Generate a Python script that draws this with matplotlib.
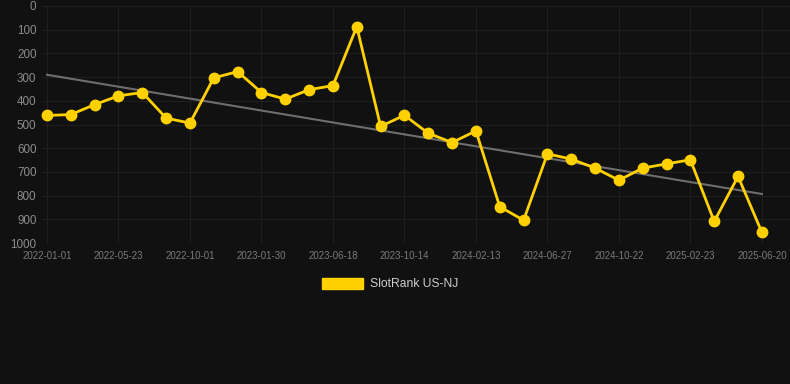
import numpy as np
import matplotlib
matplotlib.use("Agg")
import matplotlib.pyplot as plt
from matplotlib.patches import Patch

# SlotRank US-NJ rank values, one per point
rank_values = [462, 458, 416, 379, 365, 473, 494, 303, 277, 365,
               393, 353, 336, 87, 508, 461, 537, 576, 527, 847,
               904, 624, 646, 684, 735, 684, 666, 649, 909, 719,
               955]
# tick labels shown every third point
tick_labels = ["2022-01-01", "2022-05-23", "2022-10-01", "2023-01-30",
               "2023-06-18", "2023-10-14", "2024-02-13", "2024-06-27",
               "2024-10-22", "2025-02-23", "2025-06-20"]
series_name = "SlotRank US-NJ"

bg = "#111111"
gold = "#FFD100"

plt.rcParams["font.family"] = ["Liberation Sans", "DejaVu Sans"]

fig = plt.figure(figsize=(7.9, 3.84), dpi=100, facecolor=bg)
ax = fig.add_axes([42 / 790, 1 - 243 / 384, 748 / 790, 237 / 384])
ax.set_facecolor(bg)

x = np.arange(len(rank_values))
y = np.array(rank_values)

# linear trend line
slope, intercept = np.polyfit(x, y, 1)
ax.plot(x, slope * x + intercept, color="#6e6e6e", linewidth=1.5, zorder=2)

ax.plot(x, y, color=gold, linewidth=2, marker="o", markersize=7.5,
        zorder=3, clip_on=False)

ax.set_ylim(1000, 0)
ax.set_xlim(-0.21, 31.18)
ax.set_yticks(np.arange(0, 1001, 100))
ax.set_xticks(x[::3])
ax.set_xticklabels(tick_labels)

ax.grid(True, color="#1f1f1f", linewidth=0.8)
ax.set_axisbelow(True)
for s in ax.spines.values():
    s.set_visible(False)

ax.tick_params(axis="y", length=0, pad=4, labelsize=8.4, labelcolor="#8c8c8c")
ax.tick_params(axis="x", length=0, pad=6, labelsize=7, labelcolor="#7a7a7a")

handle = Patch(facecolor=gold, edgecolor=gold)
leg = fig.legend([handle], [series_name], loc="center",
                 bbox_to_anchor=(390 / 790, 1 - 284 / 384), frameon=False,
                 handlelength=3.4, handleheight=1.05, handletextpad=0.55,
                 fontsize=8.7)
for t in leg.get_texts():
    t.set_color("#cccccc")

fig.savefig("out.png", dpi=100, facecolor=bg)
